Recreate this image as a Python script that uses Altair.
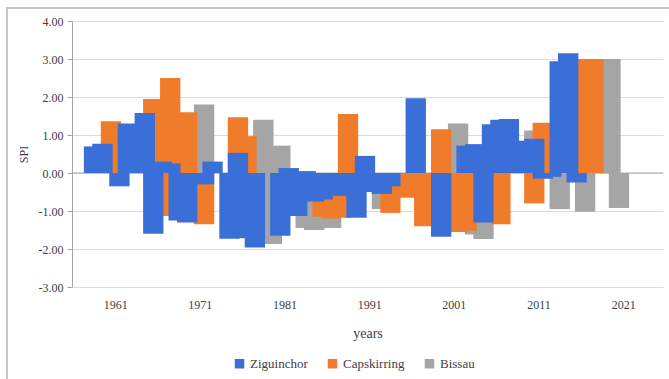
import altair as alt
import pandas as pd

# Series names and colours
series_names = ["Ziguinchor", "Capskirring", "Bissau"]
series_colors = ["#3a6fd8", "#f07c2b", "#a5a5a5"]

# SPI per year for each station
zig_years = [1958, 1959, 1961, 1962, 1964, 1965, 1966, 1967, 1968, 1969, 1971, 1972,
             1974, 1975, 1976, 1977, 1980, 1981, 1982, 1983, 1984, 1985, 1986, 1987,
             1988, 1989, 1990, 1991, 1992, 1993, 1996, 1999, 2002, 2003, 2004, 2005,
             2006, 2007, 2009, 2010, 2011, 2012, 2013, 2014, 2015]
zig_spi = [0.70, 0.77, -0.35, 1.30, 1.58, -1.60, 0.30, 0.25, -1.25, -1.30, -0.30, 0.30,
           -1.73, 0.53, -1.72, -1.96, -1.65, 0.13, -1.13, 0.05, -0.75, -0.70, -0.60, -0.55,
           -0.60, -1.18, 0.45, -0.50, -0.55, -0.35, 1.97, -1.68, 0.72, 0.76, -1.30, 1.28,
           1.40, 1.42, 0.85, 0.90, -0.15, -0.10, 2.94, 3.15, -0.25]

cap_years = [1960, 1965, 1966, 1967, 1969, 1971, 1975, 1976, 1985, 1986, 1987, 1988,
             1993, 1995, 1997, 1999, 2001, 2002, 2006, 2010, 2011, 2016, 2017]
cap_spi = [1.36, 1.95, -1.13, 2.50, 1.60, -1.35, 1.47, 0.97, -1.15, -1.20, -1.18, 1.55,
           -1.05, -0.65, -1.40, 1.15, -1.55, -1.52, -1.35, -0.80, 1.32, 3.00, 3.00]

bis_years = [1971, 1978, 1979, 1980, 1983, 1984, 1986, 1992, 2001, 2003, 2004, 2010,
             2013, 2016, 2019, 2020]
bis_spi = [1.80, 1.40, -1.87, 0.72, -1.45, -1.50, -1.45, -0.95, 1.30, -1.62, -1.74, 1.12,
           -0.95, -1.02, 3.00, -0.92]

year_ticks = [1961, 1971, 1981, 1991, 2001, 2011, 2021]
spi_ticks = [-3, -2, -1, 0, 1, 2, 3, 4]

rows = []
for name, yrs, vals in [(series_names[0], zig_years, zig_spi),
                        (series_names[1], cap_years, cap_spi),
                        (series_names[2], bis_years, bis_spi)]:
    for y, v in zip(yrs, vals):
        rows.append({"station": name, "year": y, "spi": v})
df = pd.DataFrame(rows)

FONT = "Liberation Serif"
TEXT = "#404040"

x_scale = alt.Scale(domain=[1955.9, 2025.7], nice=False, zero=False)
y_scale = alt.Scale(domain=[-3, 4], nice=False)

color = alt.Color(
    "station:N",
    scale=alt.Scale(domain=series_names, range=series_colors),
    legend=alt.Legend(title=None, orient="none", direction="horizontal",
                      legendX=161, legendY=336),
)

x_enc = alt.X(
    "x0:Q", scale=x_scale,
    axis=alt.Axis(values=year_ticks, format="d", ticks=False, domain=False, grid=False,
                  labelPadding=12, title="years", titleFontSize=14,
                  titleY=46, titleBaseline="middle"),
)
y_axis = alt.Axis(values=spi_ticks,
                  labelExpr="replace(format(datum.value, '.2f'), '\u2212', '-')",
                  grid=True, gridColor="#dcdcdc", domainColor="#a6a6a6", tickColor="#a6a6a6",
                  tickSize=5, labelPadding=4,
                  title="SPI", titleFontSize=12, titleX=-49, titleY=133,
                  titleAlign="center", titleBaseline="middle")
y_enc = alt.Y("spi:Q", scale=y_scale, axis=y_axis)


def station_bars(name):
    return (
        alt.Chart(df)
        .transform_filter(alt.datum.station == name)
        .transform_calculate(x0="datum.year - 0.7", x1="datum.year + 1.7")
        .mark_bar(clip=True)
        .encode(x=x_enc, x2="x1:Q", y=y_enc, y2=alt.datum(0), color=color)
    )


# Horizontal category axis line at zero
zero_line = alt.Chart(pd.DataFrame({"spi": [0.0]})).mark_rule(
    color="#a6a6a6", strokeWidth=1
).encode(y=y_enc)

# Outer chart frame
frame = alt.Chart(pd.DataFrame({"k": [0]})).mark_rect(
    filled=False, stroke="#c8c8c8", strokeWidth=2, clip=False
).encode(x=alt.value(-65), x2=alt.value(602), y=alt.value(-13), y2=alt.value(364))

chart = (
    alt.layer(
        zero_line,
        frame,
        station_bars("Bissau"),
        station_bars("Capskirring"),
        station_bars("Ziguinchor"),
    )
    .properties(
        width=591, height=266,
        autosize=alt.AutoSizeParams(type="none"),
        padding={"left": 72, "top": 21, "right": 6, "bottom": 92},
        background="white",
    )
    .configure(font=FONT)
    .configure_view(stroke=None)
    .configure_axis(labelFont=FONT, labelFontSize=12, labelColor=TEXT,
                    titleFont=FONT, titleFontWeight="normal", titleColor=TEXT)
    .configure_legend(symbolType="square", symbolSize=90, symbolStrokeWidth=0,
                      labelFont=FONT, labelFontSize=13, labelColor=TEXT,
                      labelOffset=4, columnPadding=18)
)

chart.save("out.html", embed_options={"renderer": "svg", "actions": False})
